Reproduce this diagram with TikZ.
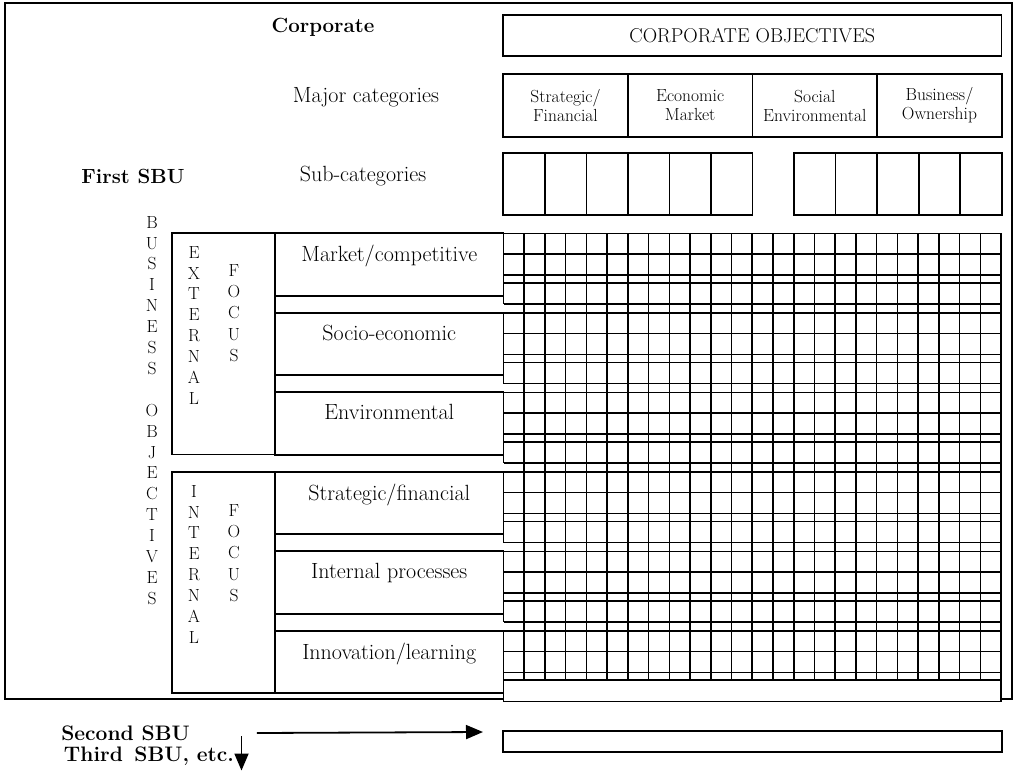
\documentclass[tikz,border=0pt]{standalone}
\usepackage{fontspec}
\usepackage{tikz}
\usetikzlibrary{arrows.meta,positioning}

\begin{document}
\begin{tikzpicture}[
    x=1pt, y=-1pt,
    frame/.style={draw, line width=2.4pt},
    box/.style={draw, line width=1.7pt, inner sep=0pt, outer sep=0pt},
    cat/.style={box, minimum width=124.65pt, minimum height=63pt, align=center, font=\fontsize{17.5}{19}\selectfont},
    cell/.style={box, minimum width=41.55pt, minimum height=62pt},
    catbox/.style={box, minimum width=228.5pt, minimum height=62.4pt},
    focusbox/.style={box, minimum width=103pt, minimum height=221.3pt},
    gridline/.style={line width=1.6pt},
    label/.style={font=\fontsize{22}{24}\selectfont, inner sep=0pt},
    head/.style={font=\fontsize{20.5}{22}\selectfont\bfseries, inner sep=0pt},
    letters/.style={font=\fontsize{17.5}{20.9}\selectfont, align=center, inner sep=0pt, anchor=north},
    arrow/.style={-{Triangle[length=17pt, width=14pt]}, line width=1.8pt}
]
    \useasboundingbox (0,0) rectangle (1014,771);
    \draw[frame] (5,3) rectangle (1012,699);

    % corporate level
    \node[head] (corp) at (323,27) {Corporate};
    \node[box, minimum width=498.5pt, minimum height=41pt, font=\fontsize{20}{22}\selectfont] (corpobj) at (752.25,35.5) {CORPORATE OBJECTIVES};
    \node[label] (major) at (366,97) {Major categories};
    \node[cat] (strat) at (565.5,105.5) {Strategic/\\Financial};
    \node[cat, right=0pt of strat] (econ) {Economic\\Market};
    \node[cat, right=0pt of econ] (social) {Social\\Environmental};
    \node[cat, right=0pt of social] (owner) {Business/\\Ownership};

    \node[head] (first) at (133,176) {First SBU};
    \node[label] (subcat) at (363,176) {Sub-categories};
    \node[cell] (subA) at (524.1,184.3) {};
    \foreach \i [remember=\i as \prev (initially A)] in {B,C,D,E,F}
        \node[cell, right=0pt of sub\prev] (sub\i) {};
    \node[cell] (subG) at (814.8,184.3) {};
    \foreach \i [remember=\i as \prev (initially G)] in {H,I,J,K}
        \node[cell, right=0pt of sub\prev] (sub\i) {};

    % business objectives
    \node[letters] (busobj) at (152,216) {B\\U\\S\\I\\N\\E\\S\\S\\\mbox{}\\O\\B\\J\\E\\C\\T\\I\\V\\E\\S};
    \node[focusbox] (extbox) at (223.5,343.9) {};
    \node[focusbox] (intbox) at (223.5,582.5) {};
    \node[letters] (exttxt) at (194,246) {E\\X\\T\\E\\R\\N\\A\\L};
    \node[letters, font=\fontsize{17.5}{21.3}\selectfont] (extfoc) at (234,264) {F\\O\\C\\U\\S};
    \node[letters] (inttxt) at (194,485) {I\\N\\T\\E\\R\\N\\A\\L};
    \node[letters, font=\fontsize{17.5}{21.3}\selectfont] (intfoc) at (234,504) {F\\O\\C\\U\\S};

    \node[catbox] (mkt) at (389.25,264.5) {};
    \node[catbox] (socio) at (389.25,344) {};
    \node[catbox] (env) at (389.25,423.5) {};
    \node[catbox] (finl) at (389.25,503) {};
    \node[catbox] (proc) at (389.25,582.5) {};
    \node[catbox] (innov) at (389.25,662) {};
    \node[label, below=12pt of mkt.north] (mkttxt) {Market/competitive};
    \node[label, below=12pt of socio.north] (sociotxt) {Socio-economic};
    \node[label, below=12pt of env.north] (envtxt) {Environmental};
    \node[label, below=12pt of finl.north] (finltxt) {Strategic/financial};
    \node[label, below=12pt of proc.north] (proctxt) {Internal processes};
    \node[label, below=12pt of innov.north] (innovtxt) {Innovation/learning};

    % objective grid
    \foreach \k in {1,...,24}
        \draw[gridline] ({503.5+\k*20.73},233.3) -- ({503.5+\k*20.73},680.3);
    \foreach \b in {0,...,5} {
        \draw[gridline] (503.5,{233.3+79.5*\b}) -- (503.5,{304+79.5*\b});
        \foreach \o in {0,20.8,41.8,49.5,70.7}
            \draw[gridline] (503.5,{233.3+79.5*\b+\o}) -- (1001,{233.3+79.5*\b+\o});
    }
    \node[box, fill=white, minimum width=497.5pt, minimum height=21.2pt] (lastrow) at (752.25,690.9) {};

    % further SBUs
    \node[head, font=\fontsize{21}{23}\selectfont\bfseries] (sbu2) at (125.5,733) {Second SBU};
    \node[head, font=\fontsize{21}{23}\selectfont\bfseries] (sbu3) at (149,756) {Third\hspace{0.55em}SBU, etc.};
    \node[box, minimum width=498.7pt, minimum height=21pt] (sbubox) at (752.35,741.5) {};
    \coordinate (arrend) at (483,732);
    \coordinate (downtop) at (241.5,736);
    \coordinate (downend) at (241.5,770.5);
    \draw[arrow] ([xshift=67pt]sbu2.east) -- (arrend);
    \draw[arrow] (downtop) -- (downend);
\end{tikzpicture}
\end{document}
